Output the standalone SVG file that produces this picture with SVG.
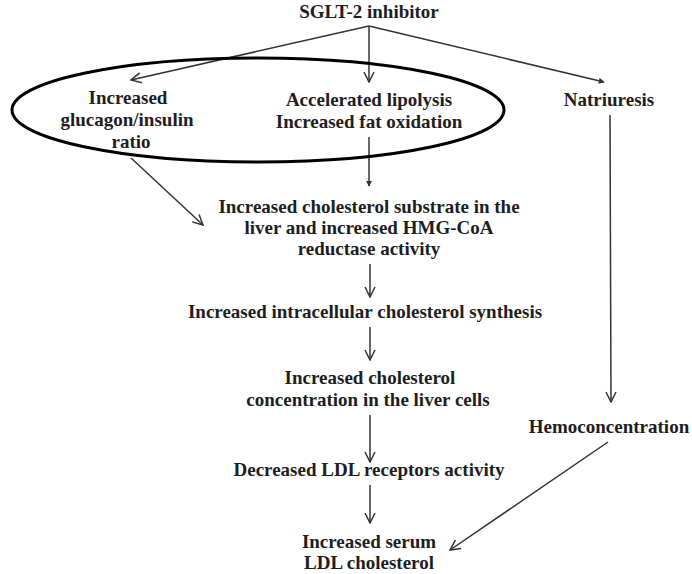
<svg xmlns="http://www.w3.org/2000/svg" width="692" height="574" viewBox="0 0 692 574">
<style>
text{font-family:"Liberation Serif","Times New Roman",serif;font-weight:bold;font-size:19px;fill:#1e1e1e;text-anchor:middle}
.c{fill:none;stroke:#333;stroke-width:1.5}
</style>
<defs>
<marker id="v" viewBox="0 0 12 12" refX="11" refY="6" markerWidth="12" markerHeight="12" markerUnits="userSpaceOnUse" orient="auto">
<path d="M1,1 L11,6 L1,11" fill="none" stroke="#333" stroke-width="1.5"/>
</marker>
<marker id="d" viewBox="0 0 8 8" refX="7" refY="4" markerWidth="6" markerHeight="6" markerUnits="userSpaceOnUse" orient="auto">
<path d="M0,0 L8,4 L0,8 Z" fill="#333"/>
</marker>
</defs>
<rect width="692" height="574" fill="#fff"/>
<g id="connectors">
<line class="c" x1="369" y1="26" x2="131" y2="80" marker-end="url(#v)"/>
<line class="c" x1="369" y1="26" x2="369" y2="82" marker-end="url(#v)"/>
<line class="c" x1="369" y1="26" x2="604" y2="82" marker-end="url(#d)"/>
<line class="c" x1="131" y1="158" x2="203" y2="225" marker-end="url(#v)"/>
<line class="c" x1="369" y1="137" x2="369" y2="186" marker-end="url(#d)"/>
<line class="c" x1="370" y1="264" x2="370" y2="297" marker-end="url(#v)"/>
<line class="c" x1="370" y1="327" x2="370" y2="360" marker-end="url(#v)"/>
<line class="c" x1="370" y1="415" x2="370" y2="462" marker-end="url(#v)"/>
<line class="c" x1="370" y1="485" x2="370" y2="523" marker-end="url(#v)"/>
<line class="c" x1="610" y1="115" x2="611" y2="402" marker-end="url(#v)"/>
<line class="c" x1="608" y1="442" x2="450" y2="550" marker-end="url(#v)"/>
</g>
<g id="sglt2"><text x="369" y="18">SGLT-2 inhibitor</text></g>
<g id="highlight"><ellipse cx="258" cy="110" rx="246" ry="52" fill="none" stroke="#000" stroke-width="3"/></g>
<g id="glucagon"><text x="128" y="104">Increased</text><text x="127" y="126">glucagon/insulin</text><text x="131" y="148">ratio</text></g>
<g id="lipolysis"><text x="369" y="106">Accelerated lipolysis</text><text x="369" y="128">Increased fat oxidation</text></g>
<g id="natriuresis"><text x="609" y="106">Natriuresis</text></g>
<g id="substrate"><text x="369" y="213">Increased cholesterol substrate in the</text><text x="369" y="234">liver and increased HMG-CoA</text><text x="369" y="255">reductase activity</text></g>
<g id="synthesis"><text x="365" y="318">Increased intracellular cholesterol synthesis</text></g>
<g id="concentration"><text x="370" y="384">Increased cholesterol</text><text x="368" y="406">concentration in the liver cells</text></g>
<g id="ldlr"><text x="369" y="476">Decreased LDL receptors activity</text></g>
<g id="hemo"><text x="609" y="433">Hemoconcentration</text></g>
<g id="serum"><text x="369" y="548">Increased serum</text><text x="369" y="569">LDL cholesterol</text></g>
</svg>
